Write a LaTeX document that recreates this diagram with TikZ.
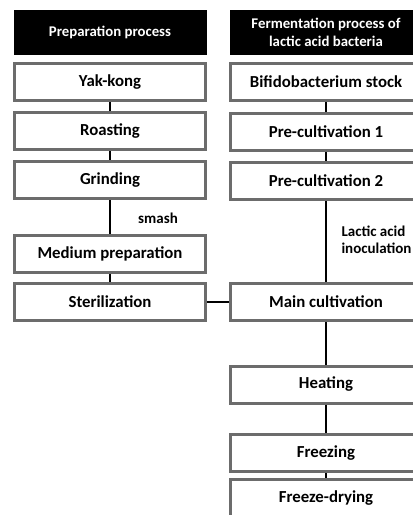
\documentclass[tikz,border=0pt]{standalone}
\usepackage{fontspec}
\setmainfont{Carlito}
\usepackage{tikz}
\usetikzlibrary{positioning}

\begin{document}
\begin{tikzpicture}[x=1pt,y=1pt,
    stepbox/.style={draw=gray!85!black, line width=3pt, fill=white,
        minimum width=191pt, minimum height=37pt, inner sep=0pt,
        font=\fontsize{16.8}{18}\selectfont\bfseries},
    headbox/.style={fill=black, text=white, minimum width=193pt,
        minimum height=45pt, inner sep=0pt, align=center,
        font=\fontsize{14.8}{18}\selectfont\bfseries},
    link/.style={line width=2.5pt, black},
    note/.style={font=\fontsize{15}{17}\selectfont\bfseries, align=left}]

\clip (0,0) rectangle (413,-515);
\fill[white] (0,0) rectangle (413,-515);

% headers
\node[headbox] (hleft) at (110,-32.5) {Preparation process};
\node[headbox] (hright) at (326,-32.5) {Fermentation process of\\lactic acid bacteria};

% preparation process
\node[stepbox] (yak) at (110,-82) {Yak-kong};
\node[stepbox] (roast) at (110,-131) {Roasting};
\node[stepbox] (grind) at (110,-180) {Grinding};
\node[stepbox] (medium) at (110,-254) {Medium preparation};
\node[stepbox] (steril) at (110,-302) {Sterilization};

% fermentation process
\node[stepbox] (stock) at (326,-82) {Bifidobacterium stock};
\node[stepbox] (pre1) at (326,-132) {Pre-cultivation 1};
\node[stepbox] (pre2) at (326,-181) {Pre-cultivation 2};
\node[stepbox] (main) at (326,-302) {Main cultivation};
\node[stepbox] (heat) at (326,-384.5) {Heating};
\node[stepbox] (freeze) at (326,-453) {Freezing};
\node[stepbox] (dry) at (326,-498) {Freeze-drying};

% links
\draw[link] (yak) -- (roast);
\draw[link] (roast) -- (grind);
\draw[link] (grind) -- (medium);
\draw[link] (medium) -- (steril);
\draw[link] (stock) -- (pre1);
\draw[link] (pre1) -- (pre2);
\draw[link] (pre2) -- (main);
\draw[link] (main) -- (heat);
\draw[link] (heat) -- (freeze);
\draw[link] (freeze) -- (dry);
\draw[link] (steril) -- (main);

% notes
\node[note] (smash) at (158,-218) {smash};
\node[note, anchor=west] (inoc) at (338,-240) {Lactic acid\\inoculation};

\end{tikzpicture}
\end{document}
